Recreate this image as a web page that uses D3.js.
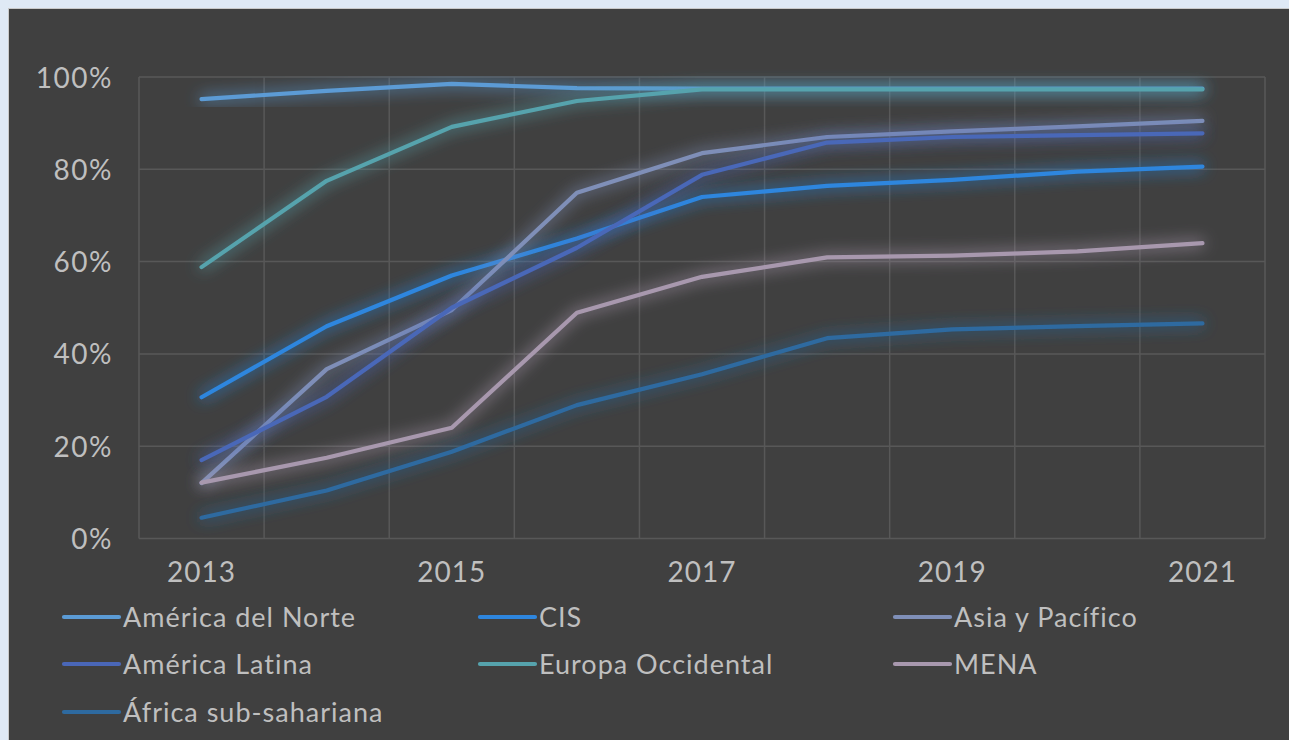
<!DOCTYPE html>
<html>
<head>
<meta charset="utf-8">
<script src="https://cdn.jsdelivr.net/npm/d3@7"></script>
<style>
	html, body { margin: 0; padding: 0; background: #dfe9f5; }
	svg { display: block; }
	text { font-family: Lato, "Open Sans", sans-serif; fill: #bfbfbf; }
</style>
</head>
<body>
<svg id="chart" width="1289" height="740"></svg>
<script>
// years on the x axis
const years = [2013, 2014, 2015, 2016, 2017, 2018, 2019, 2020, 2021];
const yearLabels = [2013, 2015, 2017, 2019, 2021];
const yTicks = [0, 20, 40, 60, 80, 100];

// series (percent)
const seriesNames = ["América del Norte", "CIS", "Asia y Pacífico", "América Latina", "Europa Occidental", "MENA", "África sub-sahariana"];
const seriesColors = ["#5b9bd5", "#2e86de", "#7f8fb8", "#4a67b8", "#56a3ad", "#a898ae", "#2e6aa0"];
const norteAmerica = [95.2, 97.0, 98.5, 97.6, 97.5, 97.5, 97.5, 97.5, 97.5];
const cis = [30.6, 46.0, 57.0, 65.0, 74.0, 76.4, 77.7, 79.5, 80.6];
const asiaPacifico = [12.0, 36.7, 49.5, 74.9, 83.5, 87.0, 88.2, 89.3, 90.5];
const americaLatina = [17.0, 30.7, 50.0, 63.0, 78.8, 85.8, 87.0, 87.4, 87.8];
const europaOcc = [58.8, 77.5, 89.2, 94.8, 97.3, 97.3, 97.3, 97.3, 97.3];
const mena = [12.1, 17.5, 24.0, 48.9, 56.7, 60.9, 61.3, 62.2, 64.0];
const africaSub = [4.5, 10.4, 18.8, 28.9, 35.6, 43.4, 45.3, 46.0, 46.6];
const seriesValues = [norteAmerica, cis, asiaPacifico, americaLatina, europaOcc, mena, africaSub];

const svg = d3.select("#chart");

// dark card
svg.append("rect")
	.attr("x", 8.5).attr("y", 8.5)
	.attr("width", 1290).attr("height", 740)
	.attr("fill", "#404040")
	.attr("stroke", "#c9c9c9")
	.attr("stroke-width", 1);

const margin = { left: 139, right: 1265, top: 77, bottom: 538.5 };

const x = d3.scaleBand()
	.domain(years)
	.range([margin.left, margin.right])
	.padding(0);

const y = d3.scaleLinear()
	.domain([0, 100])
	.range([margin.bottom, margin.top]);

// glow filter
const defs = svg.append("defs");
const glow = defs.append("filter")
	.attr("id", "glow")
	.attr("x", "-20%").attr("y", "-50%")
	.attr("width", "140%").attr("height", "200%");
glow.append("feGaussianBlur")
	.attr("in", "SourceGraphic")
	.attr("stdDeviation", 8)
	.attr("result", "blur");
glow.append("feComponentTransfer")
	.attr("in", "blur")
	.attr("result", "soft")
	.append("feFuncA").attr("type", "linear").attr("slope", 1.3);
const merge = glow.append("feMerge");
merge.append("feMergeNode").attr("in", "soft");
merge.append("feMergeNode").attr("in", "SourceGraphic");

// gridlines
const grid = svg.append("g").attr("class", "grid");
grid.selectAll("line.h")
	.data(yTicks)
	.enter().append("line")
	.attr("class", "h")
	.attr("x1", margin.left).attr("x2", margin.right)
	.attr("y1", d => y(d)).attr("y2", d => y(d))
	.attr("stroke", "#585858").attr("stroke-width", 1.5);

const bounds = years.map(d => x(d)).concat([margin.right]);
grid.selectAll("line.v")
	.data(bounds)
	.enter().append("line")
	.attr("class", "v")
	.attr("x1", d => d).attr("x2", d => d)
	.attr("y1", margin.top).attr("y2", margin.bottom)
	.attr("stroke", "#585858").attr("stroke-width", 1.5);

// axes
const yAxis = d3.axisLeft(y)
	.tickValues(yTicks)
	.tickFormat(d => d + "%")
	.tickSize(0)
	.tickPadding(26);
const yg = svg.append("g")
	.attr("transform", `translate(${margin.left},0)`)
	.call(yAxis);
yg.select(".domain").remove();
yg.selectAll("text")
	.style("font-size", "28px")
	.style("letter-spacing", "1.5px")
	.attr("fill", "#bfbfbf")
	.attr("dy", "0.36em");

const xAxis = d3.axisBottom(x)
	.tickValues(yearLabels)
	.tickSize(0)
	.tickPadding(24);
const xg = svg.append("g")
	.attr("transform", `translate(0,${margin.bottom})`)
	.call(xAxis);
xg.select(".domain").remove();
xg.selectAll("text")
	.style("font-size", "28px")
	.style("letter-spacing", "1px")
	.attr("fill", "#bfbfbf");

// lines
const line = d3.line()
	.x((d, i) => x(years[i]) + x.bandwidth() / 2)
	.y(d => y(d));

svg.append("g")
	.selectAll("path")
	.data(seriesValues)
	.enter().append("path")
	.attr("d", d => line(d))
	.attr("fill", "none")
	.attr("stroke", (d, i) => seriesColors[i])
	.attr("stroke-width", 4.2)
	.attr("stroke-linecap", "round")
	.attr("stroke-linejoin", "round")
	.attr("filter", "url(#glow)");

// legend
const colX = [64, 480, 895];
const rowY = [617, 664, 712];
const legend = svg.append("g")
	.selectAll("g")
	.data(seriesNames)
	.enter().append("g")
	.attr("transform", (d, i) => `translate(${colX[i % 3]},${rowY[Math.floor(i / 3)]})`);

legend.append("line")
	.attr("x1", 0).attr("x2", 55)
	.attr("y1", 0).attr("y2", 0)
	.attr("stroke", (d, i) => seriesColors[i])
	.attr("stroke-width", 4.2)
	.attr("stroke-linecap", "round");

legend.append("text")
	.attr("x", 59)
	.attr("y", 0)
	.attr("dy", "0.36em")
	.style("font-size", "27px")
	.style("letter-spacing", "1px")
	.text(d => d);
</script>
</body>
</html>
